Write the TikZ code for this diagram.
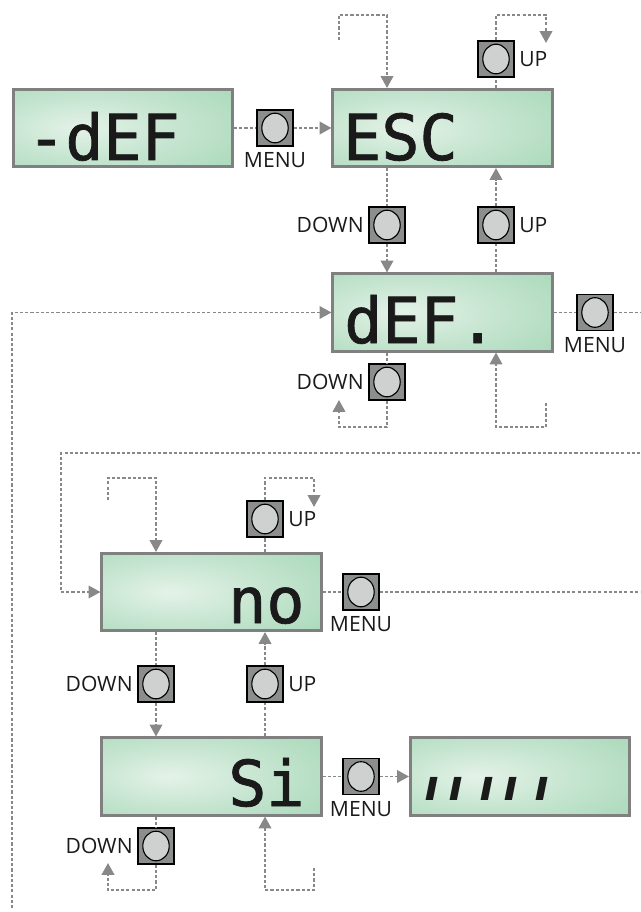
\documentclass[tikz,border=0pt]{standalone}
\usepackage{fontspec}
\setmainfont{Open Sans}
\newfontfamily\lcdfont[FakeBold=1.2]{DejaVu Sans Mono}
\newfontfamily\barfont[FakeSlant=0.2]{DejaVu Sans}
\usetikzlibrary{arrows.meta,positioning}

\definecolor{lcdrim}{HTML}{808080}
\definecolor{lcdin}{HTML}{E4F2E8}
\definecolor{lcdout}{HTML}{A7D8B8}
\definecolor{btngray}{HTML}{8C8E8E}
\definecolor{knobgray}{HTML}{CFD0D0}
\definecolor{linkgray}{HTML}{888888}
\definecolor{segblack}{HTML}{1A1A1A}

\pgfdeclareradialshading{lcdglow}{\pgfpoint{-10bp}{0bp}}{color(0bp)=(lcdin); color(20bp)=(lcdout!50!lcdin); color(42bp)=(lcdout); color(80bp)=(lcdout)}

\begin{document}
\begin{tikzpicture}[x=0.025cm,y=-0.025cm,
	display/.style={draw=lcdrim, line width=2pt, shading=lcdglow, minimum width=5.48cm, minimum height=1.93cm, inner sep=0pt},
	lcd/.style={anchor=base west, inner sep=0pt, text=segblack, font=\lcdfont\fontsize{45}{45}\selectfont},
	button/.style={draw=black, line width=1.2pt, fill=btngray, minimum size=0.9cm, inner sep=0pt,
		path picture={\draw[line width=0.8pt, fill=knobgray] (path picture bounding box.center) ellipse (0.33cm and 0.37cm);}},
	tag/.style={font=\fontsize{15}{15}\selectfont, text=segblack, inner sep=1pt},
	link/.style={draw=linkgray, line width=1.3pt, dash pattern=on 2.2pt off 1.5pt},
	go/.style={link, -{Triangle[width=9pt,length=8.5pt]}}]

	\useasboundingbox (0,0) rectangle (640,912);

	% draw displays
	\foreach \d/\x/\y in {dEF0/123/128, esc/442.5/128, def/442.5/312.5, no/211.5/592, si/211.5/776.5, wait/520/776.5}
	{
		\node[display] (\d) at (\x,\y) {};
	}
	\node[lcd] (dEF0-txt) at (27,160) {-dEF};
	\node[lcd] (esc-txt) at (343,160) {ESC};
	\node[lcd] (def-txt) at (344,343) {dEF.};
	\node[lcd] (no-txt) at (228,623) {no};
	\node[lcd] (si-txt) at (228,806) {Si};
	\node[anchor=base west, inner sep=0pt, text=segblack, font=\barfont\bfseries\fontsize{30}{30}\selectfont]
		(wait-txt) at (422,800) {ı\hspace{7pt}ı\hspace{11.5pt}ı\hspace{7pt}ı\hspace{11.5pt}ı};

	% draw buttons
	\foreach \b/\x/\y in {menu0/275/128, escup/496/59, down1/387/225, up1/496/225, menu1/595/312.5, down2/387/382,
		noup/265/519, menu2/361/592, down3/156/684, up3/265/684, menu3/361/776.5, down4/156/846}
	{
		\node[button] (\b) at (\x,\y) {};
	}
	\foreach \b in {menu0,menu1,menu2,menu3}
		\node[tag, below=3pt of \b] (\b-txt) {MENU};
	\foreach \b in {down1,down2,down3,down4}
		\node[tag, left=2pt of \b] (\b-txt) {DOWN};
	\foreach \b in {escup,up1,noup,up3}
		\node[tag, right=2pt of \b] (\b-txt) {UP};

	% free ends
	\coordinate (l0) at (12,908);
	\coordinate (l1) at (339,40);
	\coordinate (r0) at (546,43);
	\coordinate (r1) at (640,312.5);
	\coordinate (l2) at (339,400);
	\coordinate (r2) at (546,403);
	\coordinate (r3) at (640,453);
	\coordinate (l3) at (61,453);
	\coordinate (l4) at (108,500);
	\coordinate (r4) at (314,507);
	\coordinate (r5) at (640,592);
	\coordinate (l5) at (108,863);
	\coordinate (r6) at (314,868);

	% top row
	\draw[link] (dEF0) -- (menu0);
	\draw[go] (menu0) -- (esc);
	\draw[go] (l1) -- ++(0,-25) -| (esc.north -| down1);
	\draw[link] (esc.north -| escup) -- (escup);
	\draw[go] (escup.north) -- ++(0,-25.5) -| (r0);

	% esc <-> def
	\draw[link] (esc.south -| down1) -- (down1);
	\draw[go] (down1) -- (def.north -| down1);
	\draw[link] (def.north -| up1) -- (up1);
	\draw[go] (up1) -- (esc.south -| up1);

	% around def
	\draw[go] (l0) |- (def.west);
	\draw[link] (def) -- (menu1);
	\draw[link] (menu1) -- (r1);
	\draw[link] (def.south -| down2) -- (down2);
	\draw[go] (down2.south) -- ++(0,26.5) -| (l2);
	\draw[go] (r2) -- ++(0,24) -| (def.south -| up1);

	% around no
	\draw[go] (r3) -- (l3) |- (no.west);
	\draw[go] (l4) -- ++(0,-22) -| (no.north -| down3);
	\draw[link] (no.north -| noup) -- (noup);
	\draw[go] (noup.north) -- ++(0,-22.5) -| (r4);
	\draw[link] (no) -- (menu2);
	\draw[link] (menu2) -- (r5);

	% no <-> si
	\draw[link] (no.south -| down3) -- (down3);
	\draw[go] (down3) -- (si.north -| down3);
	\draw[link] (si.north -| up3) -- (up3);
	\draw[go] (up3) -- (no.south -| up3);

	% around si
	\draw[link] (si) -- (menu3);
	\draw[go] (menu3) -- (wait);
	\draw[link] (si.south -| down4) -- (down4);
	\draw[go] (down4.south) -- ++(0,25.5) -| (l5);
	\draw[go] (r6) -- ++(0,22) -| (si.south -| up3);

\end{tikzpicture}
\end{document}
